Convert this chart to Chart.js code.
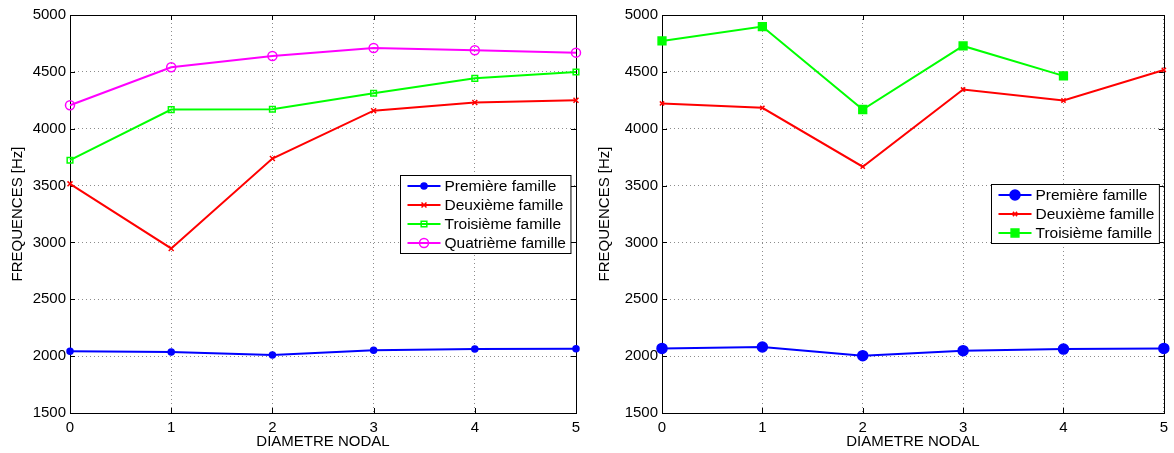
<!DOCTYPE html>
<html>
<head>
<meta charset="utf-8">
<script src="https://cdn.jsdelivr.net/npm/chart.js@4"></script>
<style>
    body { margin: 0; background: #fff; }
    #wrap { position: relative; width: 1174px; height: 453px; }
    .diag { position: absolute; top: 0; width: 587px; height: 453px; }
</style>
</head>
<body>
<div id="wrap">
    <div class="diag" style="left:0"><canvas id="gauche"></canvas></div>
    <div class="diag" style="left:587px"><canvas id="droite"></canvas></div>
</div>
<script>
//data
var diametres = [0, 1, 2, 3, 4, 5];

//left chart
var gauchePremiere = [2042, 2036, 2010, 2051, 2062, 2065];
var gaucheDeuxieme = [3515, 2947, 3738, 4159, 4230, 4250];
var gaucheTroisieme = [3723, 4168, 4171, 4312, 4443, 4499];
var gaucheQuatrieme = [4206, 4540, 4640, 4710, 4690, 4669];

//right chart
var droitePremiere = [2068, 2080, 2004, 2048, 2062, 2068];
var droiteDeuxieme = [4222, 4184, 3666, 4345, 4248, 4517];
var droiteTroisieme = [4772, 4898, 4169, 4728, 4465, null];

var police = '"Liberation Sans", Arial, sans-serif';

//box around the plot + small ticks inside (matlab look)
var cadre = {
    id: 'cadre',
    beforeDatasetsDraw(chart) {
        var ctx = chart.ctx;
        var a = chart.chartArea;
        var xs = chart.scales.x;
        var ys = chart.scales.y;
        ctx.save();
        ctx.strokeStyle = '#000';
        ctx.lineWidth = 1;
        ctx.beginPath();
        xs.ticks.forEach((t, i) => {
            var px = Math.round(xs.getPixelForTick(i)) + 0.5;
            ctx.moveTo(px, a.bottom); ctx.lineTo(px, a.bottom - 5);
            ctx.moveTo(px, a.top); ctx.lineTo(px, a.top + 5);
        });
        ys.ticks.forEach((t, i) => {
            var py = Math.round(ys.getPixelForTick(i)) + 0.5;
            ctx.moveTo(a.left, py); ctx.lineTo(a.left + 5, py);
            ctx.moveTo(a.right, py); ctx.lineTo(a.right - 5, py);
        });
        ctx.stroke();
        ctx.strokeRect(Math.round(a.left) + 0.5, Math.round(a.top) + 0.5,
            Math.round(a.right - a.left), Math.round(a.bottom - a.top));
        ctx.restore();
    }
};

//legend drawn like matlab: box, line with marker, text
var legende = {
    id: 'legende',
    afterDraw(chart, args, opts) {
        var ctx = chart.ctx;
        var sets = chart.data.datasets;
        ctx.save();
        ctx.font = '15.5px ' + police;
        var maxW = 0;
        sets.forEach((d) => { maxW = Math.max(maxW, ctx.measureText(d.label).width); });
        var w = maxW + 44 + 5;
        var h = 11 + 19 * (sets.length - 1) + 10;
        var x0 = Math.round(chart.chartArea.right - opts.gap - w) + 0.5;
        var y0 = opts.top + 0.5;
        ctx.fillStyle = '#fff';
        ctx.fillRect(x0, y0, w, h);
        ctx.strokeStyle = '#000';
        ctx.lineWidth = 1;
        ctx.strokeRect(x0, y0, w, h);
        sets.forEach((d, i) => {
            var y = opts.top + 11 + i * 19;
            ctx.strokeStyle = d.borderColor;
            ctx.lineWidth = 2;
            ctx.beginPath();
            ctx.moveTo(x0 + 7, y);
            ctx.lineTo(x0 + 40, y);
            ctx.stroke();
            ctx.fillStyle = d.pointBackgroundColor;
            ctx.strokeStyle = d.borderColor;
            ctx.lineWidth = d.pointBorderWidth;
            Chart.helpers.drawPoint(ctx, {
                pointStyle: d.pointStyle,
                radius: d.pointRadius,
                rotation: 0,
                borderWidth: d.pointBorderWidth
            }, x0 + 23.5, y);
            ctx.fillStyle = '#000';
            ctx.textBaseline = 'middle';
            ctx.fillText(d.label, x0 + 44, y + 1);
        });
        ctx.restore();
    }
};

function serie(label, data, couleur, style, rayon, plein) {
    return {
        label: label,
        data: data,
        borderColor: couleur,
        borderWidth: 2,
        pointStyle: style,
        pointRadius: rayon,
        pointHoverRadius: rayon,
        pointBorderWidth: 1.5,
        pointBackgroundColor: plein ? couleur : 'rgba(255,255,255,0)',
        pointBorderColor: couleur,
        tension: 0,
        spanGaps: false,
        clip: false
    };
}

function options(gauche, droite, legendTop, legendGap) {
    return {
        responsive: true,
        maintainAspectRatio: false,
        animation: false,
        events: [],
        layout: { padding: { left: 0, right: droite, top: 15, bottom: 0 } },
        plugins: {
            legend: { display: false },
            tooltip: { enabled: false },
            legende: { top: legendTop, gap: legendGap }
        },
        scales: {
            x: {
                type: 'category',
                offset: false,
                grid: { color: 'rgba(0,0,0,0.45)', drawTicks: false },
                border: { display: false, dash: [1, 3] },
                ticks: { color: '#000', font: { size: 15, family: police }, padding: 6, maxRotation: 0 },
                title: { display: true, text: 'DIAMETRE NODAL', color: '#000', font: { size: 15, family: police }, padding: { top: 0, bottom: 2 } },
                afterFit: (s) => { s.height = 40; }
            },
            y: {
                min: 1500,
                max: 5000,
                grid: { color: 'rgba(0,0,0,0.45)', drawTicks: false },
                border: { display: false, dash: [1, 3] },
                ticks: {
                    stepSize: 500,
                    color: '#000',
                    font: { size: 15, family: police },
                    padding: 4,
                    callback: (v) => String(v)
                },
                title: { display: true, text: 'FREQUENCES [Hz]', color: '#000', font: { size: 15, family: police }, padding: { top: 9, bottom: 0 } },
                afterFit: (s) => { s.width = gauche; }
            }
        }
    };
}

//create diagrams
new Chart(document.getElementById('gauche'), {
    type: 'line',
    data: {
        labels: diametres,
        datasets: [
            serie('Première famille', gauchePremiere, '#0000ff', 'circle', 3, true),
            serie('Deuxième famille', gaucheDeuxieme, '#ff0000', 'crossRot', 3.5, true),
            serie('Troisième famille', gaucheTroisieme, '#00ff00', 'rect', 4, false),
            serie('Quatrième famille', gaucheQuatrieme, '#ff00ff', 'circle', 4.5, false)
        ]
    },
    options: options(70, 11, 175, 6),
    plugins: [cadre, legende]
});

new Chart(document.getElementById('droite'), {
    type: 'line',
    data: {
        labels: diametres,
        datasets: [
            serie('Première famille', droitePremiere, '#0000ff', 'circle', 5, true),
            serie('Deuxième famille', droiteDeuxieme, '#ff0000', 'crossRot', 3, true),
            serie('Troisième famille', droiteTroisieme, '#00ff00', 'rect', 5.5, true)
        ]
    },
    options: options(75, 7, 184, 5),
    plugins: [cadre, legende]
});
</script>
</body>
</html>
